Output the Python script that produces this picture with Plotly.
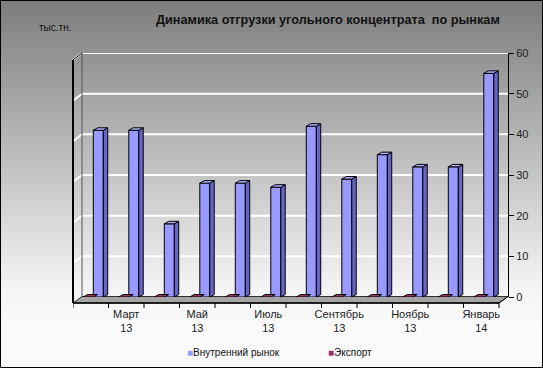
import plotly.graph_objects as go

# ---- data ----
months = ["Февраль 13", "Март 13", "Апрель 13", "Май 13", "Июнь 13", "Июль 13",
          "Август 13", "Сентябрь 13", "Октябрь 13", "Ноябрь 13", "Декабрь 13", "Январь 14"]
domestic = [41, 41, 18, 28, 28, 27, 42, 29, 35, 32, 32, 55]
export = [0, 0, 0, 0, 0, 0, 0, 0, 0, 0, 0, 0]
tick_idx = [1, 3, 5, 7, 9, 11]
tick_labels = ["Март<br>13", "Май<br>13", "Июль<br>13", "Сентябрь<br>13", "Ноябрь<br>13", "Январь<br>14"]
y_ticks = [0, 10, 20, 30, 40, 50, 60]
series_names = ["Внутренний рынок", "Экспорт"]
title_text = "Динамика отгрузки угольного концентрата  по рынкам"
unit_text = "тыс.тн."

# ---- geometry ----
W, H = 543, 368
L, R, T, B = 73, 35, 53, 71
PW, PH = W - L - R, H - T - B
CAT = 35.5
FONT = "Liberation Sans, Arial, sans-serif"


def px(x):
    return (x - L) / PW


def py(y):
    return (H - B - y) / PH


def gray(y):
    if y < 290:
        g = 124 + 121 * (y / 290)
    else:
        g = 245 + 5 * min((y - 290) / 40, 1)
    g = int(round(g))
    return f"rgb({g},{g},{g})"


x_idx = list(range(len(months)))
BAR_W = 0.282
OFF_DOM = 0.072
OFF_EXP = -0.21
DX = 4.4 / CAT
DY = 2.5 / (PH / 60)

fig = go.Figure()
fig.add_trace(go.Bar(x=x_idx, y=domestic, width=BAR_W, offset=OFF_DOM, name=series_names[0],
                     marker=dict(color="#9999ff", line=dict(color="#000000", width=1)),
                     showlegend=False, hovertext=months))
fig.add_trace(go.Bar(x=x_idx, y=export, width=BAR_W, offset=OFF_EXP, name=series_names[1],
                     marker=dict(color="#993366", line=dict(color="#000000", width=1)),
                     showlegend=False, hovertext=months))

shapes = []
# background gradient
step = 4
for i in range(0, H, step):
    shapes.append(dict(type="rect", xref="paper", yref="paper", layer="below",
                       x0=px(0), x1=px(W), y0=py(i), y1=py(i + step + 0.5),
                       fillcolor=gray(i + step / 2), line=dict(width=0)))

# floor
shapes.append(dict(type="path", xref="paper", yref="paper", layer="below",
                   path=f"M{px(73)},{py(303)} L{px(499)},{py(303)} L{px(508)},{py(296.5)} L{px(82)},{py(296.5)} Z",
                   fillcolor="#a4a4a4", line=dict(color="#303030", width=1)))

# gridlines on back wall + stubs on left wall
for v in y_ticks[1:]:
    shapes.append(dict(type="line", xref="paper", yref="y", layer="below",
                       x0=px(82), x1=1, y0=v, y1=v, line=dict(color="#ffffff", width=2)))
    shapes.append(dict(type="line", xref="paper", yref="y", layer="below",
                       x0=px(73), x1=px(82), y0=v - 7 / (PH / 60), y1=v,
                       line=dict(color="#ffffff", width=2)))

# left wall
shapes.append(dict(type="line", xref="paper", yref="paper", x0=px(82), x1=px(82), y0=py(53), y1=py(296.5),
                   line=dict(color="#555555", width=1), layer="below"))
shapes.append(dict(type="line", xref="paper", yref="paper", x0=px(73), x1=px(73), y0=py(60), y1=py(303),
                   line=dict(color="#000000", width=2)))
shapes.append(dict(type="line", xref="paper", yref="paper", x0=px(73), x1=px(82), y0=py(60), y1=py(53),
                   line=dict(color="#000000", width=1)))
# right axis bottom diagonal and x axis line
shapes.append(dict(type="line", xref="paper", yref="paper", x0=px(508), x1=px(499), y0=py(296.5), y1=py(303),
                   line=dict(color="#000000", width=1)))
shapes.append(dict(type="line", xref="paper", yref="paper", x0=px(73), x1=px(499), y0=py(303), y1=py(303),
                   line=dict(color="#000000", width=1.5)))
# category boundary ticks
for k in range(len(months) + 1):
    shapes.append(dict(type="line", xref="x", yref="paper", x0=k - 0.5, x1=k - 0.5, y0=py(303), y1=py(308),
                       line=dict(color="#000000", width=1)))

# 3D faces of bars
for vals, off, side_c, top_c in [(domestic, OFF_DOM, "#6666c4", "#b0b0ff"),
                                 (export, OFF_EXP, "#6a2347", "#993366")]:
    for i, v in zip(x_idx, vals):
        xl = i + off
        xr = xl + BAR_W
        if v > 0:
            shapes.append(dict(type="path", xref="x", yref="y",
                               path=f"M{xr},0 L{xr},{v} L{xr + DX},{v + DY} L{xr + DX},{DY} Z",
                               fillcolor=side_c, line=dict(color="#000000", width=1)))
        shapes.append(dict(type="path", xref="x", yref="y",
                           path=f"M{xl},{v} L{xl + DX},{v + DY} L{xr + DX},{v + DY} L{xr},{v} Z",
                           fillcolor=top_c, line=dict(color="#000000", width=1)))

# outer border
shapes.append(dict(type="rect", xref="paper", yref="paper", x0=px(0.5), x1=px(W - 0.5), y0=py(0.5), y1=py(H - 0.5),
                   line=dict(color="#000000", width=1), fillcolor="rgba(0,0,0,0)"))

annotations = [
    dict(text=f"<b>{title_text}</b>", xref="paper", yref="paper", x=px(502), y=py(20),
         xanchor="right", yanchor="middle", showarrow=False,
         font=dict(family=FONT, size=12.7, color="#111111")),
    dict(text=unit_text, xref="paper", yref="paper", x=px(37), y=py(28),
         xanchor="left", yanchor="middle", showarrow=False,
         font=dict(family=FONT, size=10, color="#111111")),
    dict(text=f"<span style='color:#9999ff'>■</span>{series_names[0]}", xref="paper", yref="paper",
         x=px(185), y=py(352), xanchor="left", yanchor="middle", showarrow=False,
         font=dict(family=FONT, size=10, color="#111111")),
    dict(text=f"<span style='color:#993366'>■</span>{series_names[1]}", xref="paper", yref="paper",
         x=px(326), y=py(352), xanchor="left", yanchor="middle", showarrow=False,
         font=dict(family=FONT, size=10, color="#111111")),
]

fig.update_layout(
    width=W, height=H,
    margin=dict(l=L, r=R, t=T, b=B, pad=0),
    paper_bgcolor="#ffffff", plot_bgcolor="rgba(0,0,0,0)",
    barmode="overlay",
    shapes=shapes, annotations=annotations,
    font=dict(family=FONT, size=11, color="#222222"),
    xaxis=dict(range=[-0.5, -0.5 + PW / CAT], tickvals=tick_idx, ticktext=tick_labels,
               showgrid=False, zeroline=False, showline=False, ticks="",
               ticklabelstandoff=9, tickfont=dict(family=FONT, size=11, color="#222222")),
    yaxis=dict(range=[0, 60], side="right", tickvals=y_ticks, showgrid=False, zeroline=False,
               showline=True, linecolor="#000000", linewidth=1, ticks="outside", ticklen=5,
               tickcolor="#000000", tickfont=dict(family=FONT, size=11, color="#222222")),
)

fig.write_html("out.html", config={"displayModeBar": False},
               post_script="document.body.style.margin='0';document.body.style.padding='0';")
